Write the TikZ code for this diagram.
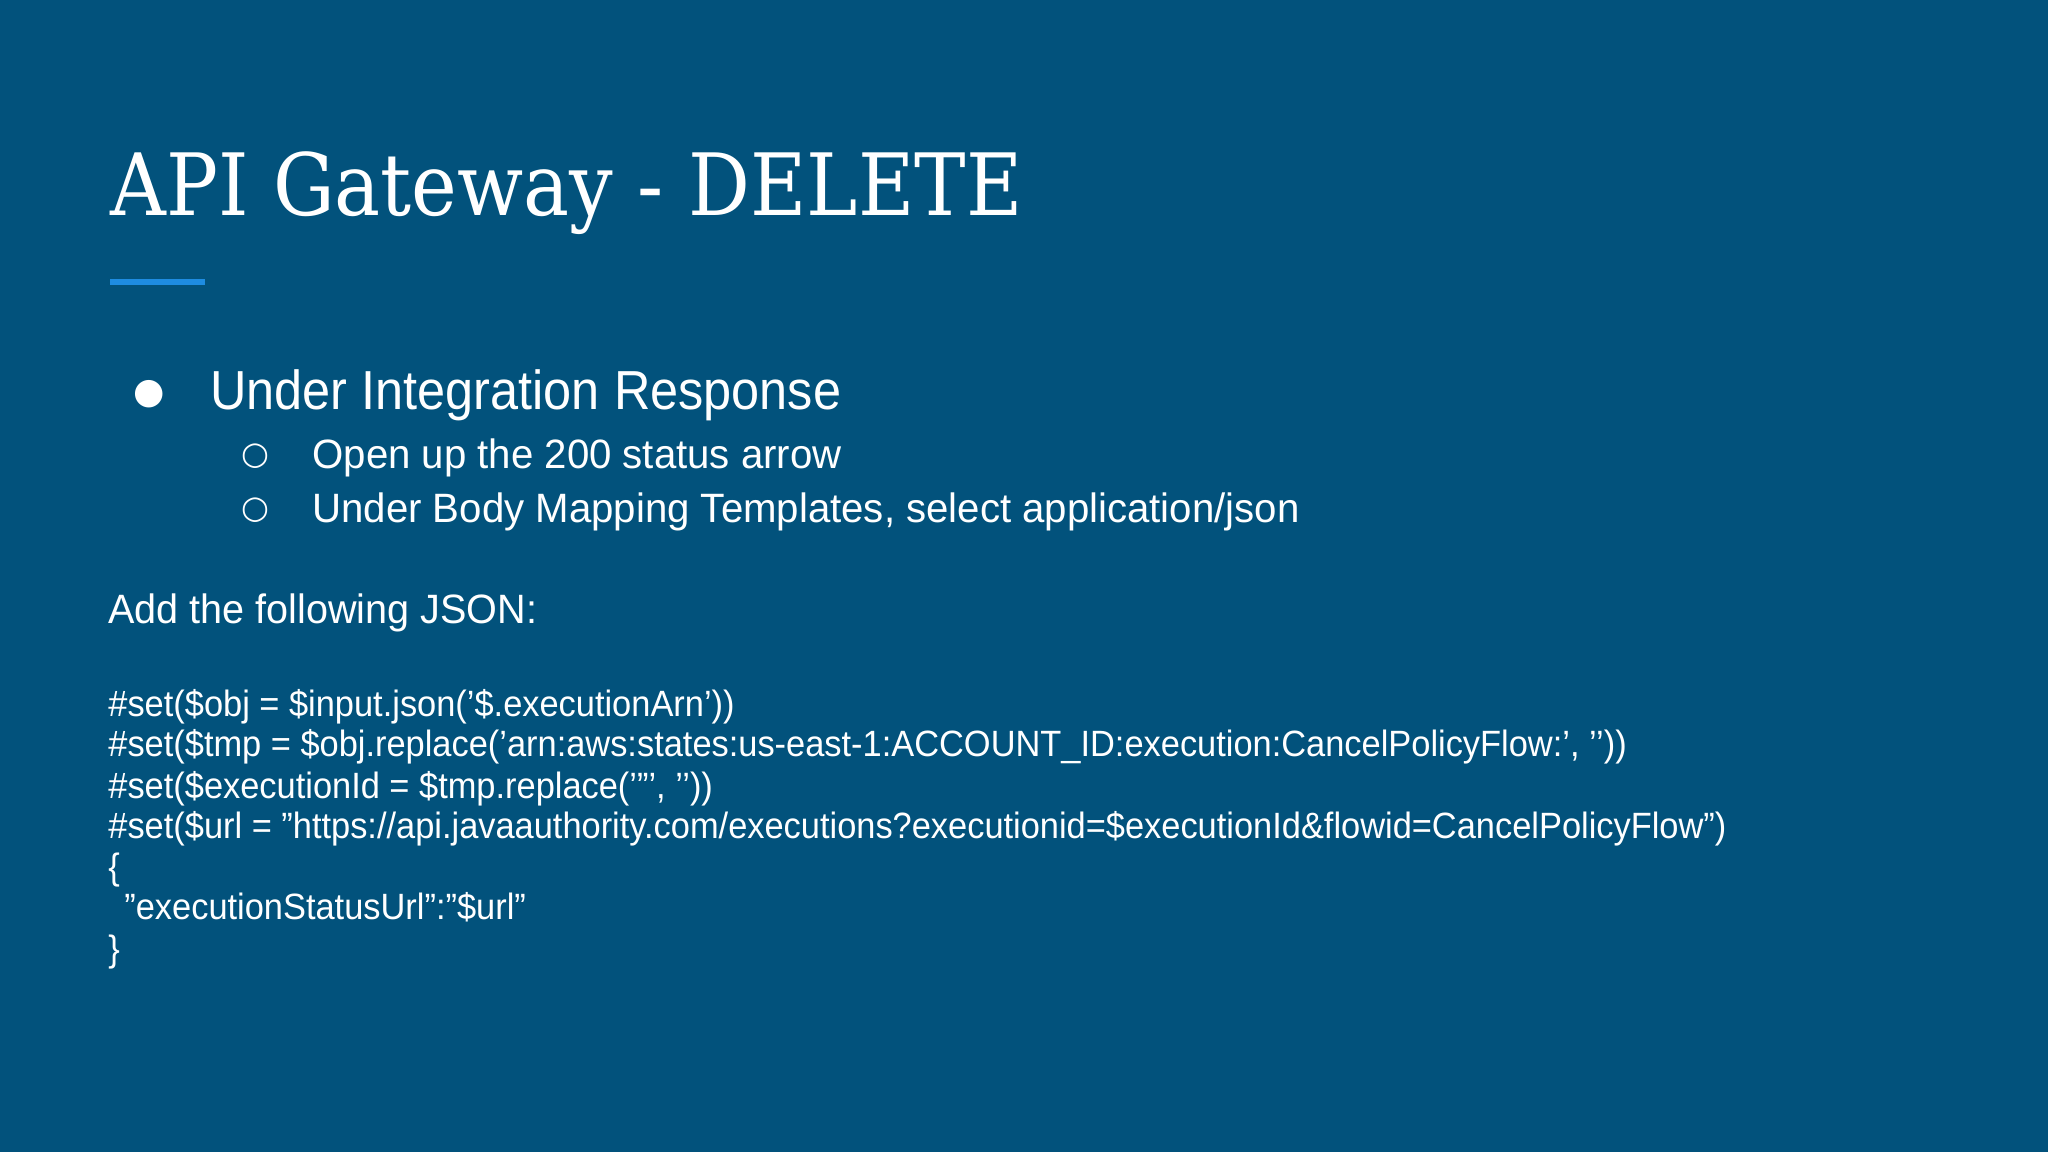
\documentclass[tikz,border=0pt]{standalone}
\usepackage{fontspec}
\setmainfont{Liberation Sans}
\newfontfamily\titlefont{DejaVu Serif}
\newfontfamily\symfont{DejaVu Sans}
\definecolor{bg}{RGB}{2,82,124}
\definecolor{accent}{RGB}{30,140,225}
\tikzset{txt/.style={anchor=base west,inner sep=0pt,text=white},
 code/.style={txt,font=\fontsize{18.3pt}{20pt}\selectfont}}
\newcommand{\cx}[1]{\scalebox{0.94}[1]{#1}}
\newcommand{\sq}{\symbol{39}}
\newcommand{\dq}{\symbol{34}}
\begin{document}
\begin{tikzpicture}[x=0.5pt,y=-0.5pt]
\fill[bg] (0,0) rectangle (2048,1152);
\useasboundingbox (0,0) rectangle (2048,1152);
\node[txt,font=\titlefont\fontsize{43pt}{48pt}\selectfont] (title) at (110,215) {\scalebox{0.898}[1]{API Gateway - DELETE}};
\fill[accent] (110,279) rectangle (205,285);
\node[txt,font=\symfont\fontsize{18pt}{22pt}\selectfont] (b1) at (133,403) {●};
\node[txt,font=\fontsize{27.5pt}{30pt}\selectfont] (t1) at (210,409) {\scalebox{0.917}[1]{Under Integration Response}};
\node[txt,font=\symfont\fontsize{16pt}{20pt}\selectfont] (b2) at (241,464) {○};
\node[txt,font=\fontsize{20.5pt}{24pt}\selectfont] (t2) at (312,468) {\scalebox{0.98}[1]{Open up the 200 status arrow}};
\node[txt,font=\symfont\fontsize{16pt}{20pt}\selectfont] (b3) at (241,518) {○};
\node[txt,font=\fontsize{20.5pt}{24pt}\selectfont] (t3) at (312,522) {\scalebox{0.98}[1]{Under Body Mapping Templates, select application/json}};
\node[txt,font=\fontsize{20.5pt}{24pt}\selectfont] (add) at (108,623) {\scalebox{0.965}[1]{Add the following JSON:}};
\node[code] (c1) at (108,716) {\cx{\#set(\$obj = \$input.json(\sq\$.executionArn\sq))}};
\node[code] (c2) at (108,756) {\cx{\#set(\$tmp = \$obj.replace(\sq arn:aws:states:us-east-1:ACCOUNT\_ID:execution:CancelPolicyFlow:\sq, \sq\sq))}};
\node[code] (c3) at (108,798) {\cx{\#set(\$executionId = \$tmp.replace(\sq\dq\sq, \sq\sq))}};
\node[code] (c4) at (108,838) {\cx{\#set(\$url = \dq https://api.javaauthority.com/executions?executionid=\$executionId\&flowid=CancelPolicyFlow\dq)}};
\node[code] (c5) at (108,879) {\cx{\{}};
\node[code] (c6) at (124,919) {\cx{\dq executionStatusUrl\dq:\dq\$url\dq}};
\node[code] (c7) at (108,961) {\cx{\}}};
\end{tikzpicture}
\end{document}
